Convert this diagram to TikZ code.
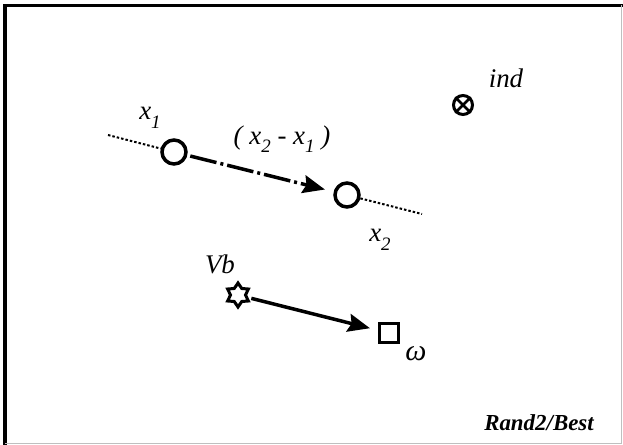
\documentclass[tikz,border=0pt]{standalone}
\usepackage{fontspec}
\setmainfont{Liberation Serif}
\usetikzlibrary{shapes.geometric,arrows.meta,positioning}
\newcommand{\lowsub}[1]{\raisebox{-0.32em}{\fontsize{19}{21}\selectfont #1}}

\begin{document}
\begin{tikzpicture}[x=1bp, y=-1bp,
  pt/.style={circle, draw, line width=3.5bp, minimum size=24bp, inner sep=0pt},
  lbl/.style={font=\fontsize{27}{30}\selectfont\itshape, inner sep=0pt},
  move/.style={-{Stealth[length=22bp, width=18bp, inset=3bp]}, line width=3.5bp}]
\useasboundingbox (0,0) rectangle (623,445);
% frame
\draw[line width=3.5bp] (5,445) -- (5,5.5) -- (623,5.5);
\draw[black!25, line width=1bp] (621,5.5) -- (621,443) -- (5,443);
% population line
\node[pt] (x1) at (174,152) {};
\node[pt] (x2) at (347,195) {};
\coordinate (lstart) at (108,135);
\coordinate (lend) at (422,214);
\draw[line width=2bp, dash pattern=on 2.5bp off 2bp] (lstart) -- (x1);
\draw[line width=2bp, dash pattern=on 2.5bp off 2bp] (x2) -- (lend);
\draw[move, dash pattern=on 27bp off 4bp on 3bp off 4bp, shorten <=3bp, shorten >=9bp] (x1) -- (x2);
\node[lbl] (x1lbl) at (150,118) {x\lowsub{1}};
\node[lbl] (difflbl) at (282,139) {( x\lowsub{2} - x\lowsub{1} )};
\node[lbl] (x2lbl) at (380,240) {x\lowsub{2}};
% individual
\node[circle, draw, line width=3bp, minimum size=19bp, inner sep=0pt] (ind) at (463,105) {};
\draw[line width=2.5bp] (ind.45) -- (ind.225) (ind.135) -- (ind.315);
\node[lbl] (indlbl) at (506,78) {ind};
% best vector and mutant
\node[star, star points=6, star point ratio=1.6, draw, line width=3bp, minimum size=24bp, inner sep=0pt] (vb) at (238,295) {};
\node[lbl] (vblbl) at (220,264) {Vb};
\node[rectangle, draw, line width=3.5bp, minimum size=19bp, inner sep=0pt] (w) at (389,333) {};
\node[lbl, font=\fontsize{30}{32}\selectfont\itshape] (wlbl) at (416,354) {ω};
\draw[move, shorten <=3bp, shorten >=8bp] (vb) -- (w);
\node[font=\fontsize{23}{26}\selectfont\bfseries\itshape] (name) at (539,423) {Rand2/Best};
\end{tikzpicture}
\end{document}
